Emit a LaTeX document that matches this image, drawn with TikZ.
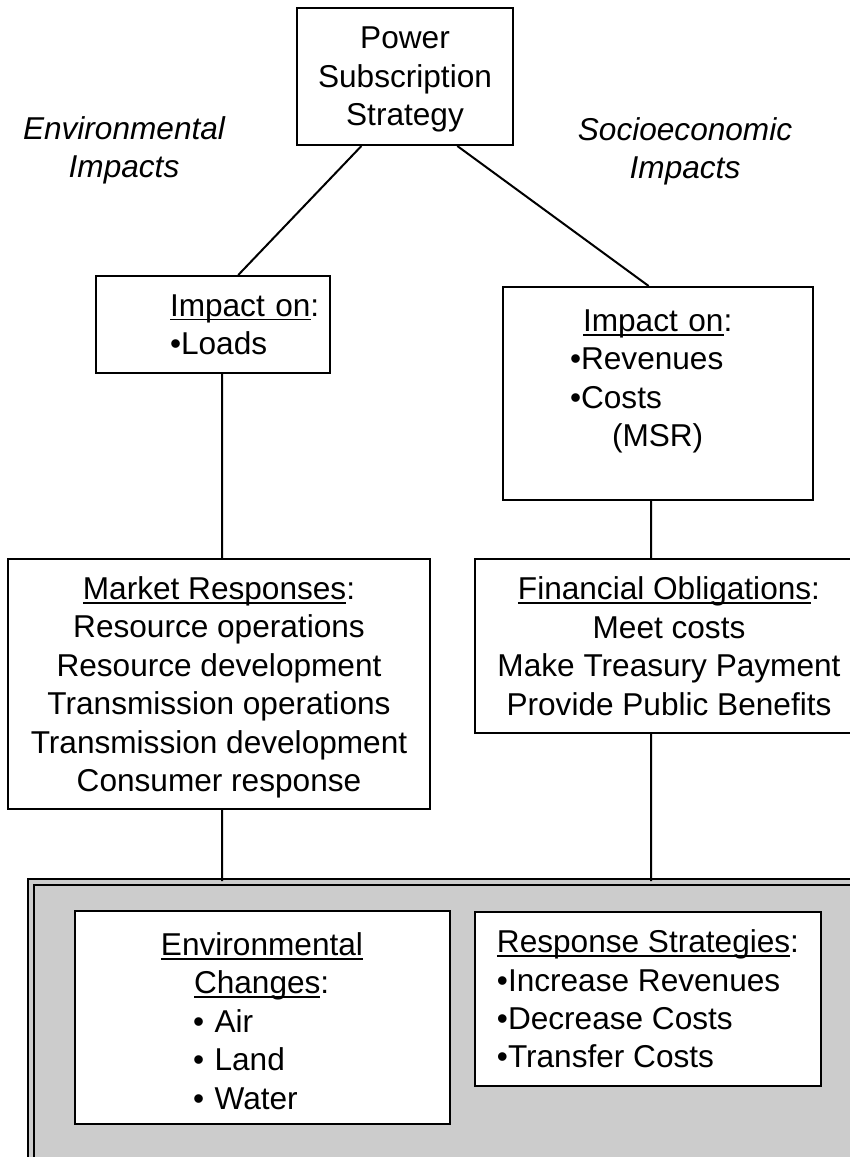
\documentclass[tikz,border=0pt]{standalone}
\usepackage{fontspec}
\setmainfont{Liberation Sans}
\usetikzlibrary{calc}

\newcommand{\undl}[1]{\setbox0\hbox{#1}\rlap{\rule[-2.2pt]{\wd0}{0.9pt}}\box0}

\begin{document}
\begin{tikzpicture}[x=0.5pt,y=-0.5pt,
    every node/.style={font=\fontsize{15.8}{19.2}\selectfont},
    box/.style={draw,fill=white,line width=1pt,inner sep=0pt},
    lbl/.style={align=center,font=\fontsize{15.8}{19}\selectfont\itshape}]
        \useasboundingbox (0,0) rectangle (850,1157);
        \clip (0,0) rectangle (850,1157);
        \node[box,minimum width=108pt,minimum height=68.5pt,align=center,text depth=-1.5pt] (power) at (405,76.5)
          {Power\\Subscription\\Strategy};
        \node[lbl] (envlbl) at (124,150) {Environmental\\Impacts};
        \node[lbl] (soclbl) at (685,151) {Socioeconomic\\Impacts};
        \node[box,text width=117pt,minimum height=48.5pt,align=left] (loads) at (213,324.5)
          {\hspace*{37pt}\undl{Impact on}:\\\hspace*{37pt}•Loads};
        \node[box,text width=155pt,minimum height=106.5pt,align=left,text depth=73pt] (costs) at (658,393.5)
          {\hspace*{40pt}\undl{Impact on}:\\\hspace*{33.5pt}•Revenues\\\hspace*{33.5pt}•Costs\\\hspace*{54.5pt}(MSR)};
        \node[box,minimum width=211pt,minimum height=125pt,align=center,text depth=-8pt] (market) at (219,684)
          {\undl{Market Responses}:\\Resource operations\\Resource development\\Transmission operations\\Transmission development\\Consumer response};
        \node[box,minimum width=194pt,minimum height=87pt,align=center,text depth=-4pt] (finance) at (669,646)
          {\undl{Financial Obligations}:\\Meet costs\\Make Treasury Payment\\Provide Public Benefits};
        \node[draw,line width=1pt,double=black!20,double distance=2pt,fill=black!20,
          minimum width=424.75pt,minimum height=149pt,inner sep=0pt] (frame) at (455.25,1031) {};
        \node[box,text width=187.5pt,minimum height=106.5pt,align=left,text depth=73.5pt] (envchg) at (262.5,1017.5)
          {\hspace*{43pt}\undl{Environmental}\\\hspace*{59.5pt}\undl{Changes}:\\\hspace*{59pt}• Air\\\hspace*{59pt}• Land\\\hspace*{59pt}• Water};
        \node[box,minimum width=173pt,minimum height=87pt,align=left] (respond) at (648,999)
          {\undl{Response Strategies}:\\•Increase Revenues\\•Decrease Costs\\•Transfer Costs};
        \coordinate (lx) at (222,0);
        \coordinate (rx) at (651,0);
        \draw[line width=1pt]
        ($(power.south west)!0.3!(power.south east)$) -- ($(loads.north west)!0.607!(loads.north east)$)
        ($(power.south west)!0.74!(power.south east)$) -- ($(costs.north west)!0.47!(costs.north east)$)
        (loads.south -| lx) -- (market.north -| lx)
        (market.south -| lx) -- (frame.north -| lx)
        (costs.south -| rx) -- (finance.north -| rx)
        (finance.south -| rx) -- (frame.north -| rx);
      \end{tikzpicture}
\end{document}
